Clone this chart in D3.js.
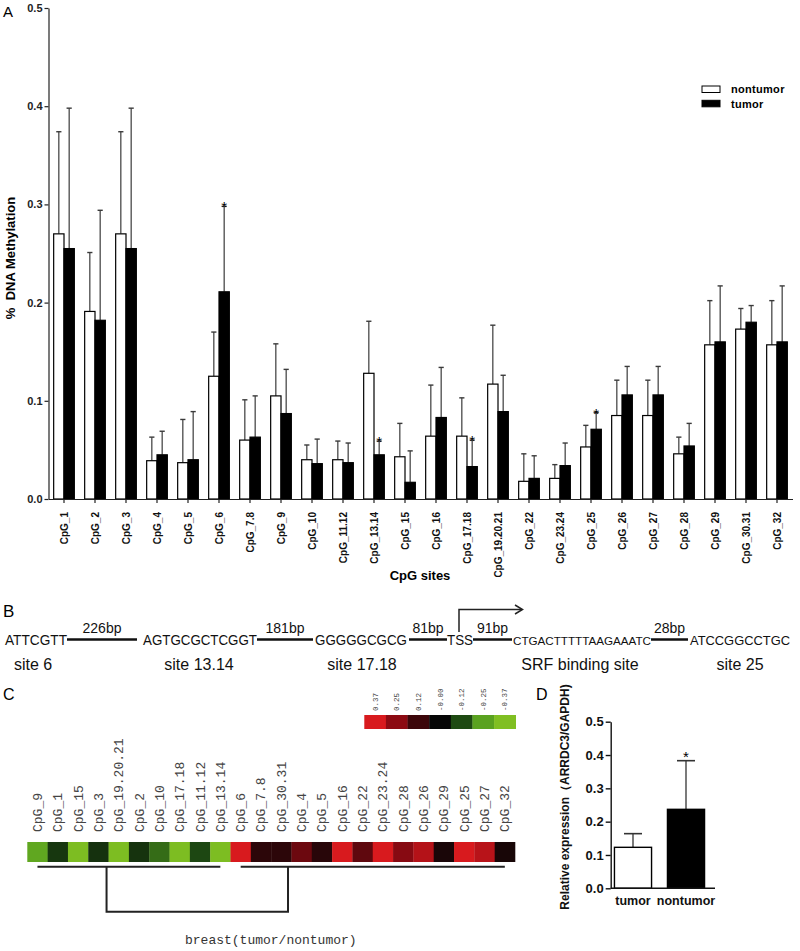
<!DOCTYPE html>
<html><head><meta charset="utf-8">
<script src="https://cdn.jsdelivr.net/npm/d3@7"></script>
<style>body{margin:0;background:#fff}svg{display:block}</style>
</head><body>
<svg id="c" width="800" height="951"></svg>
<script>
// ---------- Panel A data ----------
const categories = ["CpG_1","CpG_2","CpG_3","CpG_4","CpG_5","CpG_6","CpG_7.8","CpG_9","CpG_10","CpG_11.12","CpG_13.14","CpG_15","CpG_16","CpG_17.18","CpG_19.20.21","CpG_22","CpG_23.24","CpG_25","CpG_26","CpG_27","CpG_28","CpG_29","CpG_30.31","CpG_32"];
const seriesNames = ["nontumor","tumor"];
const nontumor   = [0.270,0.191,0.270,0.039,0.037,0.125,0.060,0.105,0.040,0.040,0.128,0.043,0.064,0.064,0.117,0.018,0.021,0.053,0.085,0.085,0.046,0.157,0.173,0.157];
const nontumorSD = [0.104,0.060,0.104,0.024,0.044,0.045,0.041,0.053,0.015,0.019,0.053,0.034,0.052,0.039,0.060,0.028,0.014,0.022,0.036,0.036,0.017,0.045,0.021,0.045];
const tumor      = [0.255,0.182,0.255,0.045,0.040,0.211,0.063,0.087,0.036,0.037,0.045,0.017,0.083,0.033,0.089,0.021,0.034,0.071,0.106,0.106,0.054,0.160,0.180,0.160];
const tumorSD    = [0.143,0.112,0.143,0.024,0.049,0.087,0.042,0.045,0.025,0.020,0.014,0.032,0.051,0.027,0.037,0.023,0.023,0.017,0.029,0.029,0.023,0.057,0.017,0.057];
const starSites  = ["CpG_6","CpG_13.14","CpG_17.18","CpG_25"];
const yTicksA    = [0,0.1,0.2,0.3,0.4,0.5];

// ---------- Panel B data ----------
const seqTexts   = ["ATTCGTT","AGTGCGCTCGGT","GGGGGCGCG","TSS","CTGACTTTTTAAGAAATC","ATCCGGCCTGC"];
const gapLabels  = ["226bp","181bp","81bp","91bp","28bp"];
const siteLabels = ["site 6","site 13.14","site 17.18","SRF binding site","site 25"];

// ---------- Panel C data ----------
const heatOrder  = ["CpG_9","CpG_1","CpG_15","CpG_3","CpG_19.20.21","CpG_2","CpG_10","CpG_17.18","CpG_11.12","CpG_13.14","CpG_6","CpG_7.8","CpG_30.31","CpG_4","CpG_5","CpG_16","CpG_22","CpG_23.24","CpG_28","CpG_26","CpG_29","CpG_25","CpG_27","CpG_32"];
const heatValues = [-0.27,-0.086,-0.36,-0.075,-0.36,-0.08,-0.17,-0.36,-0.115,-0.36,0.37,0.085,0.085,0.198,0.075,0.37,0.177,0.37,0.242,0.313,0.045,0.37,0.32,0.04];
const legendValues = [0.37,0.25,0.12,0,-0.12,-0.25,-0.37];
const legendLabels = ["0.37","0.25","0.12","-0.00","-0.12","-0.25","-0.37"];
const heatCaption = "breast(tumor/nontumor)";

// ---------- Panel D data ----------
const dGroups = ["tumor","nontumor"];
const dMeans  = [0.123,0.237];
const dSD     = [0.041,0.146];
const dStar   = ["nontumor"];
const yTicksD = [0,0.1,0.2,0.3,0.4,0.5];

const svg = d3.select("#c");
const SANS = "'Liberation Sans', Arial, sans-serif";
const MONO = "'Liberation Mono', 'DejaVu Sans Mono', monospace";

// ================= Panel A =================
const yA = d3.scaleLinear([0,0.5],[499,8]);
const xA = d3.scaleBand(categories,[48.5,792.5]);
const xS = d3.scaleBand(seriesNames,[0,xA.step()]).paddingOuter(0.5).paddingInner(0);
const gA = svg.append("g");

svg.append("text").attr("x",3).attr("y",17).attr("font-family",SANS).attr("font-size",15).text("A");

const rowsA = categories.map((c,i)=>({c, vals:[
  {s:"nontumor",v:nontumor[i],sd:nontumorSD[i]},
  {s:"tumor",v:tumor[i],sd:tumorSD[i]}]}));

const grp = gA.selectAll("g.cat").data(rowsA).join("g").attr("class","cat")
  .attr("transform",d=>`translate(${xA(d.c)},0)`);
grp.selectAll("line.err").data(d=>d.vals).join("line")
  .attr("x1",d=>xS(d.s)+xS.bandwidth()/2).attr("x2",d=>xS(d.s)+xS.bandwidth()/2)
  .attr("y1",d=>yA(d.v)).attr("y2",d=>yA(d.v+d.sd))
  .attr("stroke","#3a3a3a").attr("stroke-width",1.2);
grp.selectAll("line.cap").data(d=>d.vals).join("line")
  .attr("x1",d=>xS(d.s)+xS.bandwidth()/2-2.6).attr("x2",d=>xS(d.s)+xS.bandwidth()/2+2.6)
  .attr("y1",d=>yA(d.v+d.sd)).attr("y2",d=>yA(d.v+d.sd))
  .attr("stroke","#3a3a3a").attr("stroke-width",1.4);
grp.selectAll("rect").data(d=>d.vals).join("rect")
  .attr("x",d=>xS(d.s)).attr("width",xS.bandwidth())
  .attr("y",d=>yA(d.v)).attr("height",d=>yA(0)-yA(d.v))
  .attr("fill",d=>d.s==="tumor"?"#000":"#fff")
  .attr("stroke","#000").attr("stroke-width",1.2);
grp.filter(d=>starSites.includes(d.c)).append("text")
  .attr("x",d=>xS("tumor")+xS.bandwidth()/2)
  .attr("y",d=>{const t=d.vals[1];return yA(t.v+t.sd)+6;})
  .attr("text-anchor","middle").attr("font-family",SANS).attr("font-size",15).text("*");

const axYA = gA.append("g").attr("transform","translate(48.5,0)")
  .call(d3.axisLeft(yA).tickValues(yTicksA).tickFormat(d3.format(".1f")).tickSize(4).tickSizeOuter(0).tickPadding(2));
axYA.selectAll("text").attr("font-family",SANS).attr("font-size",11).attr("font-weight","bold").attr("fill","#222");
axYA.selectAll("path,line").attr("stroke","#222").attr("stroke-width",1.2);

const axXA = gA.append("g").attr("transform","translate(0,499)")
  .call(d3.axisBottom(xA).tickSize(4).tickSizeOuter(0));
axXA.selectAll("text").attr("transform","rotate(-90)").attr("x",-13).attr("y",0).attr("dy","0.35em")
  .attr("text-anchor","end").attr("font-family",SANS).attr("font-size",10).attr("font-weight","bold").attr("fill","#111");
axXA.selectAll("path,line").attr("stroke","#222").attr("stroke-width",1.2);

gA.append("text").attr("transform","translate(15,258) rotate(-90)").attr("text-anchor","middle")
  .attr("font-family",SANS).attr("font-size",13).attr("font-weight","bold").attr("xml:space","preserve").text("%  DNA Methylation");
gA.append("text").attr("x",420).attr("y",580).attr("text-anchor","middle")
  .attr("font-family",SANS).attr("font-size",13).attr("font-weight","bold").text("CpG sites");

const leg = gA.append("g").selectAll("g").data(seriesNames).join("g")
  .attr("transform",(d,i)=>`translate(702,${86+i*14.3})`);
leg.append("rect").attr("width",18).attr("height",6.5)
  .attr("fill",d=>d==="tumor"?"#000":"#fff").attr("stroke","#000").attr("stroke-width",1);
leg.append("text").attr("x",29).attr("y",3.5).attr("dy","0.35em")
  .attr("font-family",SANS).attr("font-size",11).attr("font-weight","bold").attr("letter-spacing","0.3").text(d=>d);

// ================= Panel B =================
const gB = svg.append("g");
gB.append("text").attr("x",3).attr("y",617).attr("font-family",SANS).attr("font-size",17).text("B");
const seqBoxes = [[5,67],[143,257],[315,407],[447,473],[513,651],[690,790]];
const seqSizes = [13.8,13.8,13.8,13.8,11.5,13.2];
gB.selectAll("text.seq").data(seqTexts).join("text").attr("class","seq")
  .attr("x",(d,i)=>seqBoxes[i][0]).attr("y",645)
  .attr("textLength",(d,i)=>seqBoxes[i][1]-seqBoxes[i][0]).attr("lengthAdjust","spacingAndGlyphs")
  .attr("font-family",SANS).attr("font-size",(d,i)=>seqSizes[i]).attr("fill","#111").text(d=>d);
const gapBoxes = [[67,137],[257,313],[409,447],[473,512],[651,688]];
gB.selectAll("line.gap").data(gapLabels).join("line")
  .attr("x1",(d,i)=>gapBoxes[i][0]).attr("x2",(d,i)=>gapBoxes[i][1])
  .attr("y1",639.5).attr("y2",639.5).attr("stroke","#111").attr("stroke-width",2.4);
gB.selectAll("text.gap").data(gapLabels).join("text")
  .attr("x",(d,i)=>(gapBoxes[i][0]+gapBoxes[i][1])/2).attr("y",633).attr("text-anchor","middle")
  .attr("font-family",SANS).attr("font-size",14).attr("fill","#111").text(d=>d);
gB.append("path").attr("d","M459,632 V609.5 H522").attr("fill","none").attr("stroke","#222").attr("stroke-width",1.5);
gB.append("path").attr("d","M515,605 L522.5,609.5 L515,614").attr("fill","none").attr("stroke","#222").attr("stroke-width",1.5);
const siteCenters = [33,199,362,580,740];
gB.selectAll("text.site").data(siteLabels).join("text")
  .attr("x",(d,i)=>siteCenters[i]).attr("y",670).attr("text-anchor","middle")
  .attr("font-family",SANS).attr("font-size",16).attr("fill","#111").text(d=>d);

// ================= Panel C =================
const gC = svg.append("g");
gC.append("text").attr("x",3).attr("y",700).attr("font-family",SANS).attr("font-size",16).text("C");
const heatColor = d3.scaleLinear().domain([-0.37,-0.25,-0.12,0,0.12,0.25,0.37])
  .range(["#80bf22","#5aa220","#1e4a12","#060606","#3c060a","#8c0a12","#d81a1e"]).clamp(true);
const xH = d3.scaleBand(heatOrder,[27.3,515]);
gC.selectAll("rect.h").data(heatOrder).join("rect")
  .attr("x",d=>xH(d)).attr("y",842).attr("width",xH.bandwidth()+0.3).attr("height",20)
  .attr("fill",(d,i)=>heatColor(heatValues[i]));
gC.selectAll("text.h").data(heatOrder).join("text")
  .attr("transform",d=>`translate(${xH(d)+xH.bandwidth()/2+4.5},832) rotate(-90)`)
  .attr("font-family",MONO).attr("font-size",13).attr("fill","#444").text(d=>d);
const xL = d3.scaleBand(legendLabels,[364.3,515.7]);
gC.selectAll("rect.l").data(legendLabels).join("rect")
  .attr("x",d=>xL(d)).attr("y",715).attr("width",xL.bandwidth()+0.3).attr("height",14)
  .attr("fill",(d,i)=>heatColor(legendValues[i]));
gC.selectAll("text.l").data(legendLabels).join("text")
  .attr("transform",d=>`translate(${xL(d)+xL.bandwidth()/2+2.5},711) rotate(-90)`)
  .attr("font-family",MONO).attr("font-size",7.5).attr("fill","#444").text(d=>d);
const hx = d3.scaleLinear([0,heatOrder.length],[27.3,515]);
const leftN = 10, joinL = 3.9, joinR = 12.83;
const dend = d3.path();
dend.moveTo(hx(0.5),866.7); dend.lineTo(hx(leftN-0.5),866.7);
dend.moveTo(hx(leftN+0.5),866.7); dend.lineTo(hx(heatOrder.length-0.5),866.7);
dend.moveTo(hx(joinL),866.7); dend.lineTo(hx(joinL),911.7); dend.lineTo(hx(joinR),911.7); dend.lineTo(hx(joinR),866.7);
gC.append("path").attr("d",dend.toString()).attr("fill","none").attr("stroke","#222").attr("stroke-width",2);
gC.append("text").attr("x",185).attr("y",944).attr("font-family",MONO).attr("font-size",13).attr("fill","#333").text(heatCaption);

// ================= Panel D =================
const gD = svg.append("g");
gD.append("text").attr("x",536).attr("y",700).attr("font-family",SANS).attr("font-size",16).text("D");
const yD = d3.scaleLinear([0,0.5],[888.3,721.7]);
const xD = d3.scaleBand(dGroups,[606.5,712.5]).paddingInner(0.3).paddingOuter(0.15);
dGroups.forEach((g,i)=>{
  const cx = xD(g)+xD.bandwidth()/2;
  gD.append("line").attr("x1",cx).attr("x2",cx).attr("y1",yD(dMeans[i])).attr("y2",yD(dMeans[i]+dSD[i]))
    .attr("stroke","#333").attr("stroke-width",1.3);
  gD.append("line").attr("x1",cx-9).attr("x2",cx+9).attr("y1",yD(dMeans[i]+dSD[i])).attr("y2",yD(dMeans[i]+dSD[i]))
    .attr("stroke","#333").attr("stroke-width",1.6);
  gD.append("rect").attr("x",xD(g)).attr("width",xD.bandwidth()).attr("y",yD(dMeans[i])).attr("height",yD(0)-yD(dMeans[i]))
    .attr("fill",i===1?"#000":"#fff").attr("stroke","#000").attr("stroke-width",1.4);
  if(dStar.includes(g)) gD.append("text").attr("x",cx).attr("y",yD(dMeans[i]+dSD[i])+1)
    .attr("text-anchor","middle").attr("font-family",SANS).attr("font-size",15).text("*");
});
const axYD = gD.append("g").attr("transform","translate(610.7,0)")
  .call(d3.axisLeft(yD).tickValues(yTicksD).tickFormat(d3.format(".1f")).tickSize(5).tickSizeOuter(0).tickPadding(2));
axYD.selectAll("text").attr("font-family",SANS).attr("font-size",13).attr("font-weight","bold").attr("fill","#111");
axYD.selectAll("path,line").attr("stroke","#111").attr("stroke-width",1.4);
const axXD = gD.append("g").attr("transform","translate(0,888.3)")
  .call(d3.axisBottom(xD).tickSize(0).tickSizeOuter(0).tickPadding(8));
axXD.select("path").remove();
gD.append("line").attr("x1",610.7).attr("x2",715).attr("y1",888.3).attr("y2",888.3).attr("stroke","#111").attr("stroke-width",1.4);
axXD.selectAll("text").attr("font-family",SANS).attr("font-size",12.5).attr("font-weight","bold").attr("fill","#111");
gD.append("text").attr("transform","translate(569,797) rotate(-90)").attr("text-anchor","middle")
  .attr("font-family",SANS).attr("font-size",12).attr("font-weight","bold").attr("fill","#111")
  .text("Relative expression（ARRDC3/GAPDH)");
</script>
</body></html>
